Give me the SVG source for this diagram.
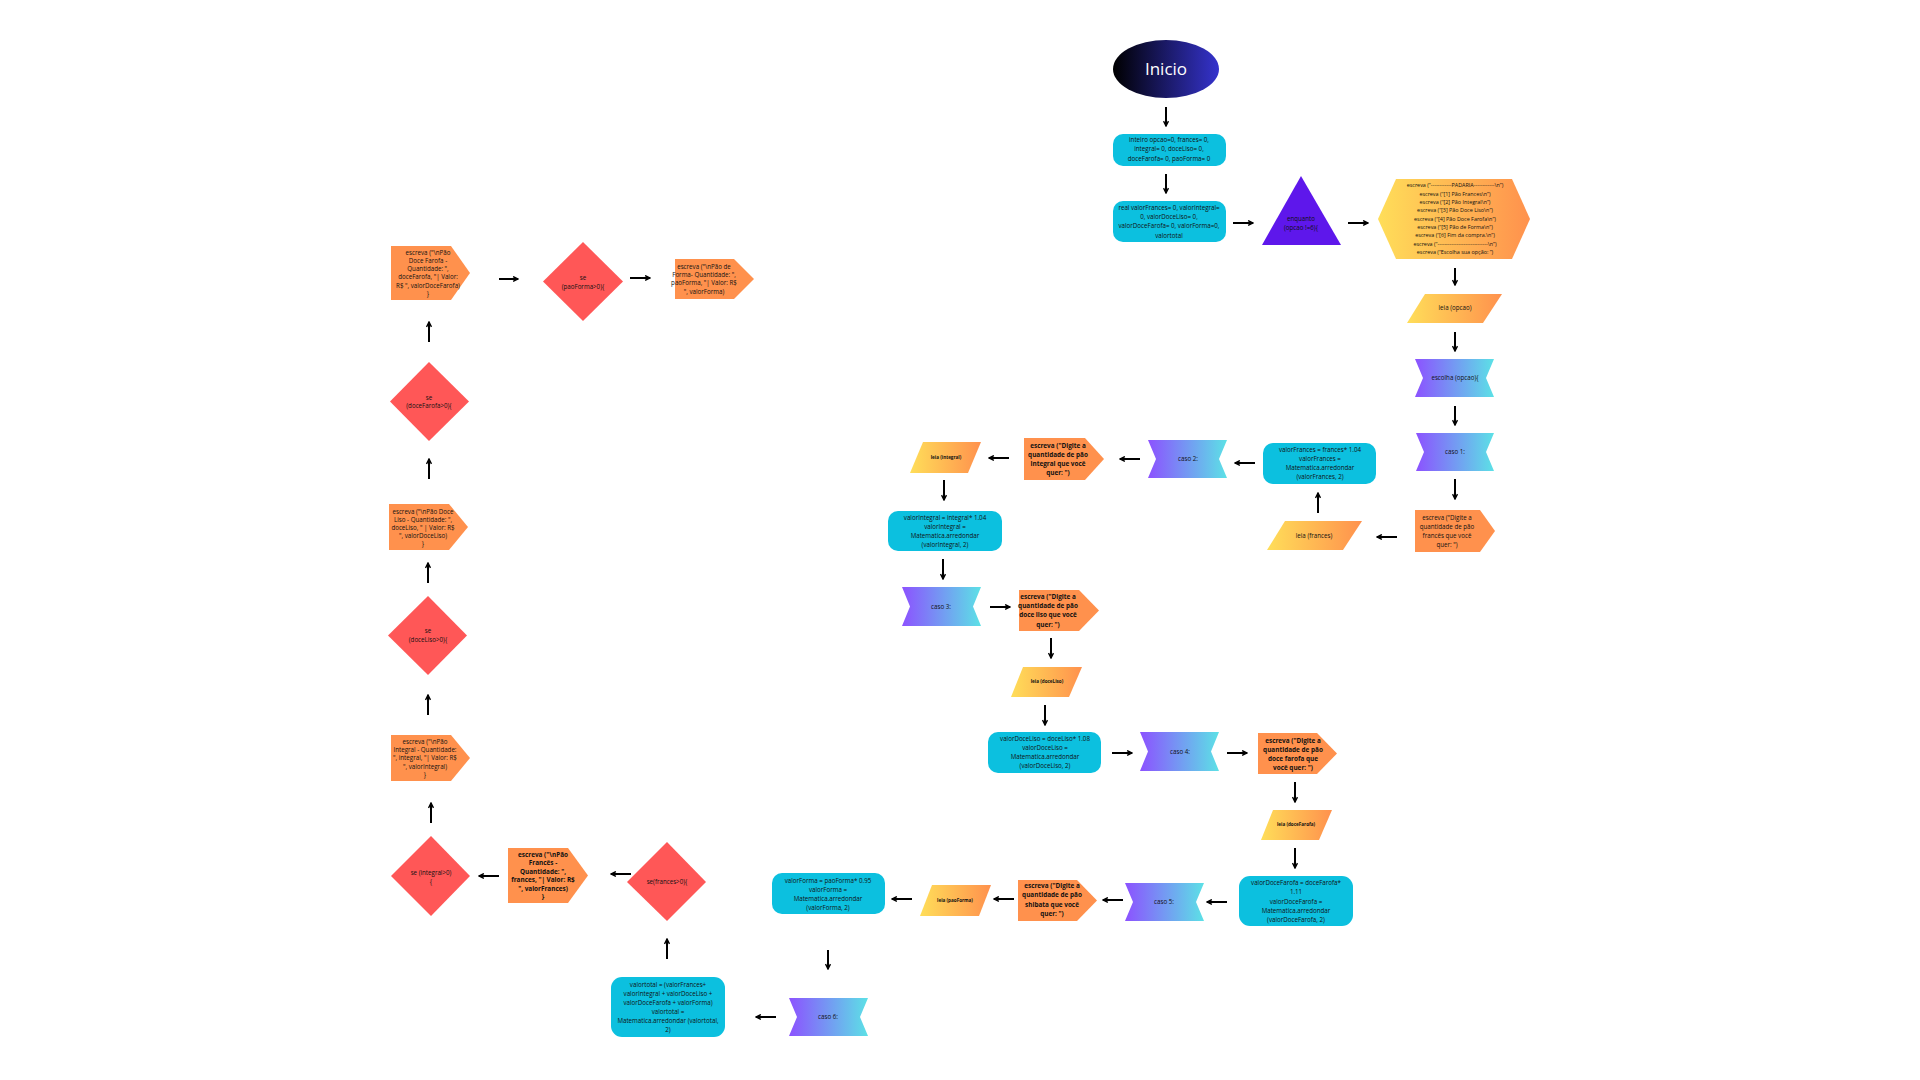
<svg xmlns="http://www.w3.org/2000/svg" width="1920" height="1080" viewBox="0 0 1920 1080">
<defs>
<linearGradient id="gStart" x1="0" y1="0" x2="1" y2="0"><stop offset="0" stop-color="#000000"/><stop offset="1" stop-color="#3533cd"/></linearGradient>
<linearGradient id="gYO" x1="0" y1="0" x2="1" y2="0"><stop offset="0" stop-color="#ffde59"/><stop offset="1" stop-color="#ff914d"/></linearGradient>
<linearGradient id="gPC" x1="0" y1="0" x2="1" y2="0"><stop offset="0" stop-color="#8c52ff"/><stop offset="1" stop-color="#5ce1e6"/></linearGradient>
<marker id="ah" viewBox="0 0 10 10" markerWidth="7" markerHeight="7" refX="8.5" refY="5" orient="auto" markerUnits="userSpaceOnUse">
<path d="M1.5,1.5 L8.5,5 L1.5,8.5" fill="none" stroke="#000" stroke-width="2"/>
</marker>
<style>
text{font-family:"Open Sans","Noto Sans","Liberation Sans",sans-serif;fill:#111;text-anchor:middle;dominant-baseline:middle}
.t{font-size:6.2px}
.b{font-size:6.4px;font-weight:bold}
.s{font-size:5.4px}
.sb{font-size:4.6px;font-weight:bold}
.proc{fill:#0cc0df}
.orange{fill:#ff914d}
.dia{fill:#ff5757}
.para{fill:url(#gYO)}
.notch{fill:url(#gPC)}
.conn line{stroke:#000;stroke-width:2;marker-end:url(#ah)}
</style>
</defs>
<rect width="1920" height="1080" fill="#ffffff"/>

<g id="n-inicio"><ellipse cx="1166" cy="69" rx="53" ry="29" fill="url(#gStart)"/><text x="1166" y="70" style="font-size:17px;fill:#fff">Inicio</text></g>

<g id="n-vars1"><rect class="proc" x="1113" y="134" width="113" height="32" rx="10"/>
<text class="t" x="1169" y="140">inteiro opcao=0, frances= 0,</text>
<text class="t" x="1169" y="149.5">integral= 0, doceLiso= 0,</text>
<text class="t" x="1169" y="159">doceFarofa= 0, paoForma= 0</text></g>

<g id="n-vars2"><rect class="proc" x="1113" y="201" width="113" height="41" rx="10"/>
<text class="t" x="1169" y="208">real valorFrances= 0, valorIntegral=</text>
<text class="t" x="1169" y="217">0, valorDoceLiso= 0,</text>
<text class="t" x="1169" y="226.5">valorDoceFarofa= 0, valorForma=0,</text>
<text class="t" x="1169" y="236">valortotal</text></g>

<g id="n-enquanto"><polygon points="1301,176 1341,245 1262,245" fill="#5e17eb"/>
<text class="t" x="1301" y="219">enquanto</text>
<text class="t" x="1301" y="228.5">(opcao !=6){</text></g>

<g id="n-menu"><polygon class="para" points="1378,219 1396,179 1512,179 1530,219 1512,259 1396,259"/>
<text class="s" x="1455" y="186">escreva (“------------PADARIA------------\n”)</text>
<text class="s" x="1455" y="194.3">escreva (“[1] Pão Frances\n”)</text>
<text class="s" x="1455" y="202.6">escreva (“[2] Pão Integral\n”)</text>
<text class="s" x="1455" y="210.9">escreva (“[3] Pão Doce Liso\n”)</text>
<text class="s" x="1455" y="219.2">escreva (“[4] Pão Doce Farofa\n”)</text>
<text class="s" x="1455" y="227.5">escreva (“[5] Pão de Forma\n”)</text>
<text class="s" x="1455" y="235.8">escreva (“[6] Fim da compra.\n”)</text>
<text class="s" x="1455" y="244.1">escreva (“-----------------------------\n”)</text>
<text class="s" x="1455" y="252.4">escreva (“Escolha sua opção: ”)</text></g>

<g id="n-leia-opcao"><polygon class="para" points="1425,294 1502,294 1483,323 1407,323"/><text class="t" x="1455" y="308.5">leia (opcao)</text></g>

<g id="n-escolha"><polygon class="notch" points="1415,359 1494,359 1486,378 1494,397 1415,397 1423,378"/><text class="t" x="1455" y="378">escolha (opcao){</text></g>

<g id="n-caso1"><polygon class="notch" points="1416,433 1494,433 1486,452 1494,471 1416,471 1424,452"/><text class="t" x="1455" y="452">caso 1:</text></g>

<g id="n-escreva-frances"><polygon class="orange" points="1415,510 1480,510 1495,531 1480,552 1415,552"/>
<text class="t" x="1447" y="518">escreva ("Digite a</text>
<text class="t" x="1447" y="527">quantidade de pão</text>
<text class="t" x="1447" y="536">francês que você</text>
<text class="t" x="1447" y="545">quer: ")</text></g>

<g id="n-leia-frances"><polygon class="para" points="1285,521 1362,521 1343,550 1267,550" /><text class="t" x="1314" y="536">leia (frances)</text></g>

<g id="n-calc-frances"><rect class="proc" x="1263" y="443" width="113" height="41" rx="10"/>
<text class="t" x="1320" y="450">valorFrances = frances* 1.04</text>
<text class="t" x="1320" y="459">valorFrances =</text>
<text class="t" x="1320" y="468">Matematica.arredondar</text>
<text class="t" x="1320" y="477">(valorFrances, 2)</text></g>

<g id="n-caso2"><polygon class="notch" points="1148,440 1227,440 1219,459 1227,478 1148,478 1156,459"/><text class="t" x="1188" y="459.5">caso 2:</text></g>

<g id="n-escreva-integral"><polygon class="orange" points="1024,438 1085,438 1104,459 1085,480 1024,480"/>
<text class="b" x="1058" y="446">escreva ("Digite a</text>
<text class="b" x="1058" y="455">quantidade de pão</text>
<text class="b" x="1058" y="464">integral que você</text>
<text class="b" x="1058" y="473">quer: ")</text></g>

<g id="n-leia-integral"><polygon class="para" points="923,442 981,442 968,473 910,473"/><text class="sb" x="946" y="457.5">leia (integral)</text></g>

<g id="n-calc-integral"><rect class="proc" x="888" y="511" width="114" height="40" rx="10"/>
<text class="t" x="945" y="518">valorIntegral = integral* 1.04</text>
<text class="t" x="945" y="527">valorIntegral =</text>
<text class="t" x="945" y="536">Matematica.arredondar</text>
<text class="t" x="945" y="545">(valorIntegral, 2)</text></g>

<g id="n-caso3"><polygon class="notch" points="902,587 981,587 973,606.5 981,626 902,626 910,606.5"/><text class="t" x="941" y="607">caso 3:</text></g>

<g id="n-escreva-doceliso"><polygon class="orange" points="1019,590 1079,590 1099,610.5 1079,631 1019,631"/>
<text class="b" x="1048" y="597">escreva ("Digite a</text>
<text class="b" x="1048" y="606">quantidade de pão</text>
<text class="b" x="1048" y="615.5">doce liso que você</text>
<text class="b" x="1048" y="625">quer: ")</text></g>

<g id="n-leia-doceliso"><polygon class="para" points="1023,667 1082,667 1069,697 1011,697"/><text class="sb" x="1047" y="682">leia (doceLiso)</text></g>

<g id="n-calc-doceliso"><rect class="proc" x="988" y="732" width="113" height="41" rx="10"/>
<text class="t" x="1045" y="739">valorDoceLiso = doceLiso* 1.08</text>
<text class="t" x="1045" y="748">valorDoceLiso =</text>
<text class="t" x="1045" y="757">Matematica.arredondar</text>
<text class="t" x="1045" y="766">(valorDoceLiso, 2)</text></g>

<g id="n-caso4"><polygon class="notch" points="1140,732 1219,732 1211,751.5 1219,771 1140,771 1148,751.5"/><text class="t" x="1180" y="752">caso 4:</text></g>

<g id="n-escreva-docefarofa"><polygon class="orange" points="1258,733 1317,733 1337,753.5 1317,774 1258,774"/>
<text class="b" x="1293" y="741.5">escreva ("Digite a</text>
<text class="b" x="1293" y="750.5">quantidade de pão</text>
<text class="b" x="1293" y="759.5">doce farofa que</text>
<text class="b" x="1293" y="768.5">você quer: ")</text></g>

<g id="n-leia-docefarofa"><polygon class="para" points="1273,810 1332,810 1319,840 1261,840"/><text class="sb" x="1296" y="825">leia (doceFarofa)</text></g>

<g id="n-calc-docefarofa"><rect class="proc" x="1239" y="876" width="114" height="50" rx="11"/>
<text class="t" x="1296" y="883">valorDoceFarofa = doceFarofa*</text>
<text class="t" x="1296" y="892">1.11</text>
<text class="t" x="1296" y="902">valorDoceFarofa =</text>
<text class="t" x="1296" y="911">Matematica.arredondar</text>
<text class="t" x="1296" y="920">(valorDoceFarofa, 2)</text></g>

<g id="n-caso5"><polygon class="notch" points="1125,883 1204,883 1196,902 1204,921 1125,921 1133,902"/><text class="t" x="1164" y="902">caso 5:</text></g>

<g id="n-escreva-paoforma"><polygon class="orange" points="1018,880 1077,880 1097,900.5 1077,921 1018,921"/>
<text class="b" x="1052" y="886.5">escreva ("Digite a</text>
<text class="b" x="1052" y="895.5">quantidade de pão</text>
<text class="b" x="1052" y="905">shibata que você</text>
<text class="b" x="1052" y="914">quer: ")</text></g>

<g id="n-leia-paoforma"><polygon class="para" points="932,885 991,885 979,916 920,916"/><text class="sb" x="955" y="900.5">leia (paoForma)</text></g>

<g id="n-calc-paoforma"><rect class="proc" x="772" y="873" width="113" height="41" rx="10"/>
<text class="t" x="828" y="881">valorForma = paoForma* 0.95</text>
<text class="t" x="828" y="890">valorForma =</text>
<text class="t" x="828" y="899">Matematica.arredondar</text>
<text class="t" x="828" y="908">(valorForma, 2)</text></g>

<g id="n-caso6"><polygon class="notch" points="789,998 868,998 860,1017 868,1036 789,1036 797,1017"/><text class="t" x="828" y="1017">caso 6:</text></g>

<g id="n-total"><rect class="proc" x="611" y="977" width="114" height="60" rx="11"/>
<text class="t" x="668" y="985.5">valortotal = (valorFrances+</text>
<text class="t" x="668" y="994.5">valorIntegral + valorDoceLiso +</text>
<text class="t" x="668" y="1003">valorDoceFarofa + valorForma)</text>
<text class="t" x="668" y="1012.5">valortotal =</text>
<text class="t" x="668" y="1021">Matematica.arredondar (valortotal,</text>
<text class="t" x="668" y="1030">2)</text></g>

<g id="n-se-frances"><polygon class="dia" points="667,842 706,882 667,921 627,882"/><text class="t" x="667" y="882">se(frances&gt;0){</text></g>

<g id="n-out-frances"><polygon class="orange" points="508,848 568,848 588,875.5 568,903 508,903"/>
<text class="b" x="543" y="855">escreva ("\nPão</text>
<text class="b" x="543" y="863.5">Francês -</text>
<text class="b" x="543" y="872">Quantidade: ",</text>
<text class="b" x="543" y="880.5">frances, "| Valor: R$</text>
<text class="b" x="543" y="889">", valorFrances)</text>
<text class="b" x="543" y="897.5">}</text></g>

<g id="n-se-integral"><polygon class="dia" points="431,836 470,876 431,916 391,876"/>
<text class="t" x="431" y="873">se (integral&gt;0)</text>
<text class="t" x="431" y="882">{</text></g>

<g id="n-out-integral"><polygon class="orange" points="391,735 451,735 470,758 451,781 391,781"/>
<text class="t" x="425" y="742">escreva ("\nPão</text>
<text class="t" x="425" y="750.5">Integral - Quantidade:</text>
<text class="t" x="425" y="758.5">", integral, "| Valor: R$</text>
<text class="t" x="425" y="767">", valorIntegral)</text>
<text class="t" x="425" y="775">}</text></g>

<g id="n-se-doceliso"><polygon class="dia" points="428,596 467,635.5 428,675 388,635.5"/>
<text class="t" x="428" y="631.5">se</text>
<text class="t" x="428" y="640">(doceLiso&gt;0){</text></g>

<g id="n-out-doceliso"><polygon class="orange" points="389,504 449,504 468,527 449,550 389,550"/>
<text class="t" x="423" y="512">escreva ("\nPão Doce</text>
<text class="t" x="423" y="520">Liso - Quantidade: ",</text>
<text class="t" x="423" y="528">doceLiso, " | Valor: R$</text>
<text class="t" x="423" y="536">", valorDoceLiso)</text>
<text class="t" x="423" y="544">}</text></g>

<g id="n-se-docefarofa"><polygon class="dia" points="429,362 469,401.5 429,441 390,401.5"/>
<text class="t" x="429" y="398">se</text>
<text class="t" x="429" y="406">(doceFarofa&gt;0){</text></g>

<g id="n-out-docefarofa"><polygon class="orange" points="391,246 451,246 470,273 451,300 391,300"/>
<text class="t" x="428" y="253">escreva ("\nPão</text>
<text class="t" x="428" y="261">Doce Farofa -</text>
<text class="t" x="428" y="269.5">Quantidade: ",</text>
<text class="t" x="428" y="277.5">doceFarofa, "| Valor:</text>
<text class="t" x="428" y="286">R$ ", valorDoceFarofa)</text>
<text class="t" x="428" y="294">}</text></g>

<g id="n-se-paoforma"><polygon class="dia" points="583,242 623,281.5 583,321 543,281.5"/>
<text class="t" x="583" y="278">se</text>
<text class="t" x="583" y="287">(paoForma&gt;0){</text></g>

<g id="n-out-paoforma"><polygon class="orange" points="675,259 734,259 754,279 734,299 675,299"/>
<text class="t" x="704" y="267">escreva ("\nPão de</text>
<text class="t" x="704" y="275">Forma- Quantidade: ",</text>
<text class="t" x="704" y="283.5">paoForma, "| Valor: R$</text>
<text class="t" x="704" y="292">", valorForma)</text></g>

<g id="connectors" class="conn">
<line x1="1166" y1="107" x2="1166" y2="126"/>
<line x1="1166" y1="174" x2="1166" y2="193"/>
<line x1="1233" y1="223" x2="1253" y2="223"/>
<line x1="1348" y1="223" x2="1368" y2="223"/>
<line x1="1455" y1="268" x2="1455" y2="285"/>
<line x1="1455" y1="332" x2="1455" y2="351"/>
<line x1="1455" y1="406" x2="1455" y2="425"/>
<line x1="1455" y1="479" x2="1455" y2="499"/>
<line x1="1397" y1="537" x2="1377" y2="537"/>
<line x1="1318" y1="513" x2="1318" y2="493"/>
<line x1="1255" y1="463" x2="1235" y2="463"/>
<line x1="1140" y1="459" x2="1120" y2="459"/>
<line x1="1009" y1="458" x2="989" y2="458"/>
<line x1="944" y1="480" x2="944" y2="500"/>
<line x1="943" y1="559" x2="943" y2="579"/>
<line x1="990" y1="607" x2="1010" y2="607"/>
<line x1="1051" y1="638" x2="1051" y2="658"/>
<line x1="1045" y1="705" x2="1045" y2="725"/>
<line x1="1112" y1="753" x2="1132" y2="753"/>
<line x1="1227" y1="753" x2="1247" y2="753"/>
<line x1="1295" y1="782" x2="1295" y2="802"/>
<line x1="1295" y1="848" x2="1295" y2="868"/>
<line x1="1227" y1="902" x2="1207" y2="902"/>
<line x1="1123" y1="900" x2="1103" y2="900"/>
<line x1="1014" y1="899" x2="994" y2="899"/>
<line x1="912" y1="899" x2="892" y2="899"/>
<line x1="828" y1="950" x2="828" y2="969"/>
<line x1="776" y1="1017" x2="756" y2="1017"/>
<line x1="667" y1="959" x2="667" y2="939"/>
<line x1="631" y1="874" x2="611" y2="874"/>
<line x1="499" y1="876" x2="479" y2="876"/>
<line x1="431" y1="823" x2="431" y2="803"/>
<line x1="428" y1="715" x2="428" y2="695"/>
<line x1="428" y1="583" x2="428" y2="563"/>
<line x1="429" y1="479" x2="429" y2="459"/>
<line x1="429" y1="342" x2="429" y2="322"/>
<line x1="499" y1="279" x2="518" y2="279"/>
<line x1="630" y1="278" x2="650" y2="278"/>
</g>
</svg>
